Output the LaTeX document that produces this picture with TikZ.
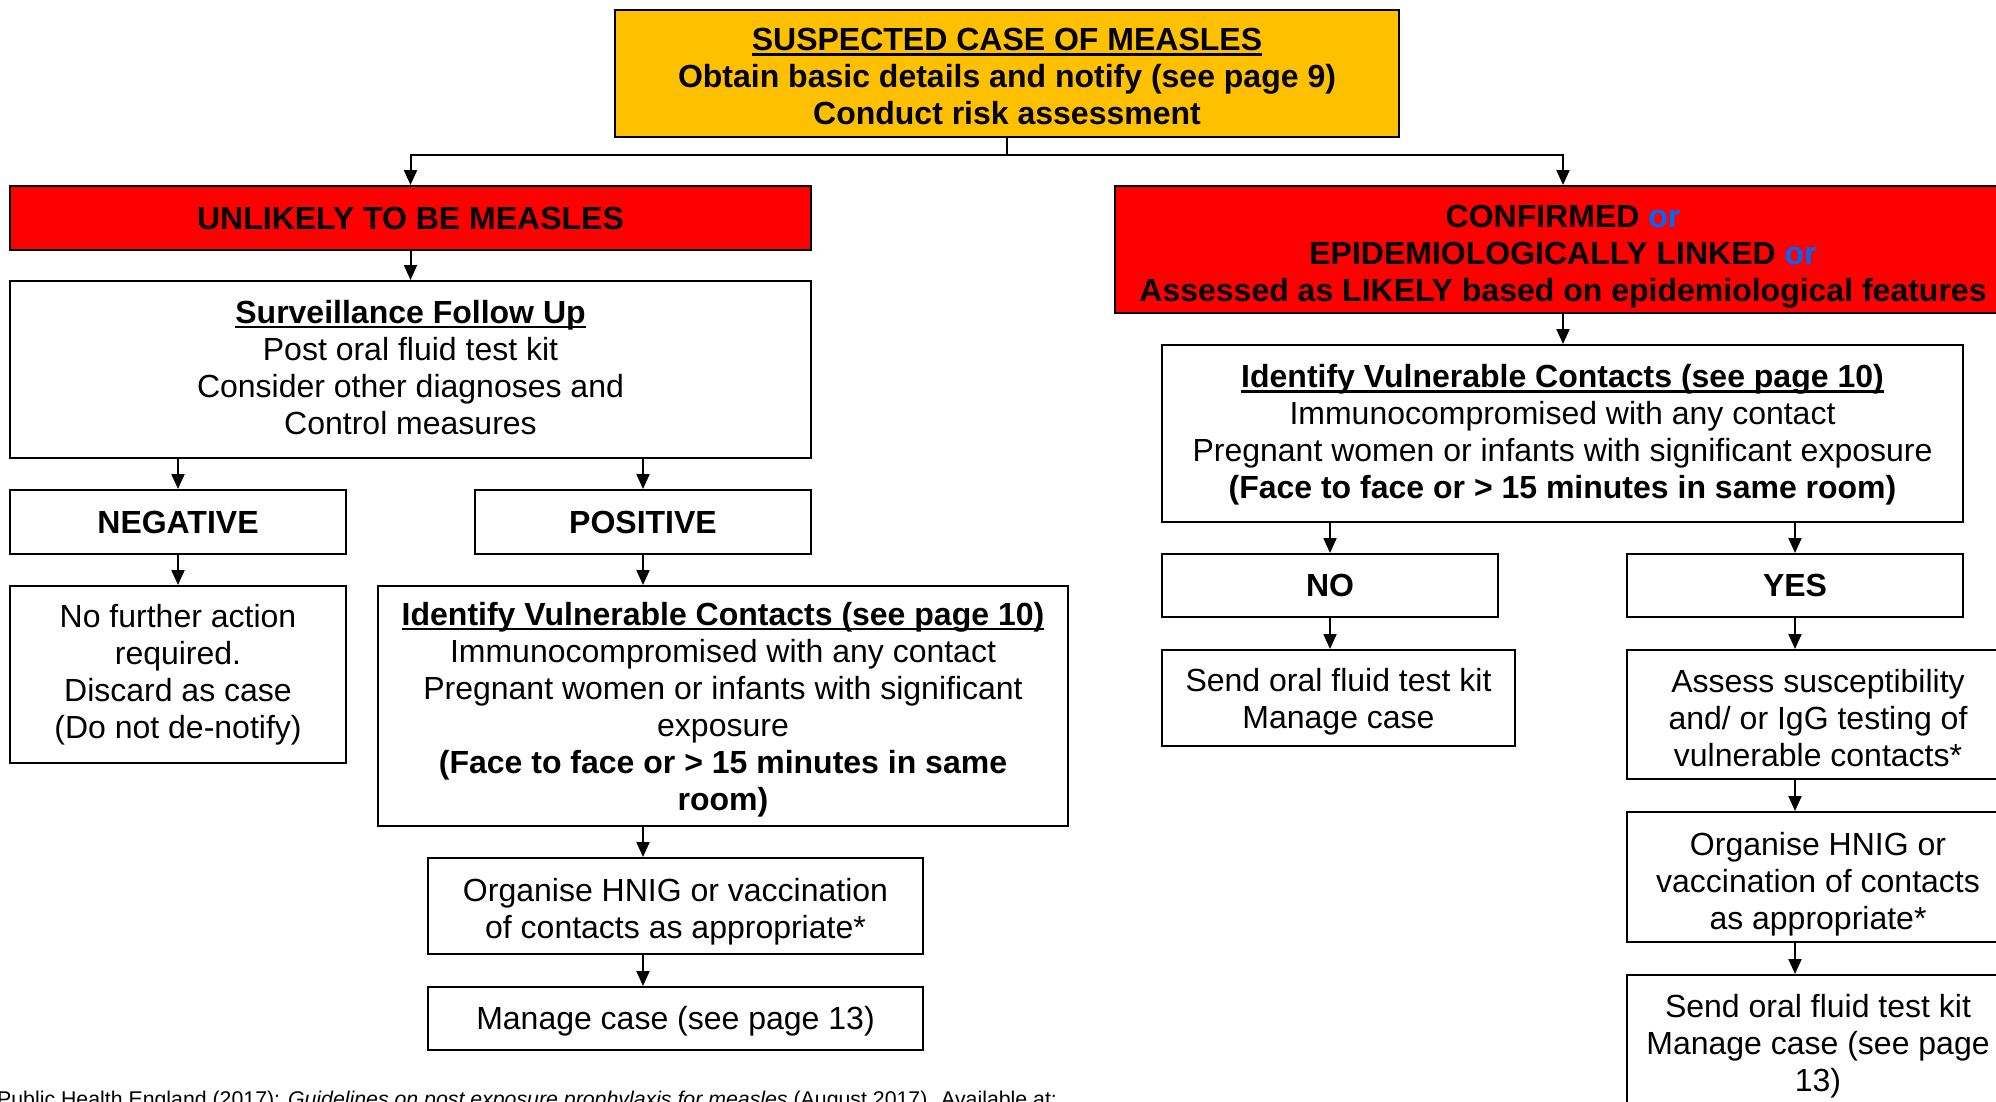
\documentclass[tikz,border=0pt]{standalone}
\usepackage{fontspec}
\setmainfont{Liberation Sans}
\usetikzlibrary{arrows.meta,calc}
\definecolor{ambr}{RGB}{255,192,0}
\definecolor{redb}{RGB}{255,0,0}
\definecolor{orblue}{RGB}{0,102,255}
\newsavebox{\myulbox}
\newcommand{\myul}[1]{\sbox{\myulbox}{#1}\rlap{\rule[-5pt]{\wd\myulbox}{2.6pt}}\usebox{\myulbox}}
\newcommand{\dn}[1]{\rule{0pt}{#1}}
\begin{document}
\begin{tikzpicture}[x=1pt,y=-1pt,
  box/.style={draw=black, line width=2pt, align=center, inner sep=0pt,
    font=\fontsize{32}{37}\selectfont},
  boldbox/.style={box, font=\fontsize{32}{37}\selectfont\bfseries},
  redbox/.style={box, fill=redb, font=\fontsize{32}{37}\selectfont\bfseries},
  arr/.style={line width=2pt, -{Triangle[width=13pt,length=15pt]}},
  link/.style={line width=2pt}]
\useasboundingbox (0,0) rectangle (1996,1101);
\clip (0,0) rectangle (1996,1101);

% top
\node[boldbox, fill=ambr, text depth=0pt,
  minimum width=784pt, minimum height=127pt] (top) at (1007,73.5)
  {\dn{28pt}\myul{SUSPECTED CASE OF MEASLES}\\Obtain basic details and notify (see page 9)\\Conduct risk assessment};

% left branch
\node[redbox, minimum width=801pt, minimum height=64pt] (unl) at (410.5,218)
  {UNLIKELY TO BE MEASLES};
\node[box, text depth=5pt, minimum width=801pt, minimum height=177pt] (surv) at (410.5,369.5)
  {\myul{\textbf{Surveillance Follow Up}}\\Post oral fluid test kit\\Consider other diagnoses and\\Control measures};
\node[boldbox, minimum width=336pt, minimum height=64pt] (neg) at (178,522) {NEGATIVE};
\node[boldbox, minimum width=336pt, minimum height=64pt] (pos) at (643,522) {POSITIVE};
\node[box, minimum width=336pt, minimum height=177pt] (nof) at (178,674.5)
  {No further action\\required.\\Discard as case\\(Do not de-notify)};
\node[box, text depth=0pt, minimum width=690pt, minimum height=240pt] (idl) at (723,706)
  {\myul{\textbf{Identify Vulnerable Contacts (see page 10)}}\\Immunocompromised with any contact\\Pregnant women or infants with significant\\exposure\\\textbf{(Face to face or > 15 minutes in same}\\\textbf{room)}};
\node[box, text depth=0pt, minimum width=495pt, minimum height=96pt] (orgl) at (675.5,906)
  {\dn{28pt}Organise HNIG or vaccination\\of contacts as appropriate*};
\node[box, text depth=2pt, minimum width=495pt, minimum height=63pt] (manl) at (675.5,1018.5)
  {Manage case (see page 13)};

% right branch
\node[redbox, text depth=0pt, minimum width=896pt, minimum height=127pt] (conf) at (1563,249.5)
  {\dn{30.6pt}CONFIRMED \textcolor{orblue}{or}\\EPIDEMIOLOGICALLY LINKED \textcolor{orblue}{or}\\Assessed as LIKELY based on epidemiological features};
\node[box, text depth=4pt, minimum width=801pt, minimum height=177pt] (idr) at (1562.5,433.5)
  {\myul{\textbf{Identify Vulnerable Contacts (see page 10)}}\\Immunocompromised with any contact\\Pregnant women or infants with significant exposure\\\textbf{(Face to face or > 15 minutes in same room)}};
\node[boldbox, minimum width=336pt, minimum height=63pt] (no) at (1330,585.5) {NO};
\node[boldbox, minimum width=336pt, minimum height=63pt] (yes) at (1795,585.5) {YES};
\node[box, text depth=0pt, minimum width=353pt, minimum height=96pt] (sendno) at (1338.5,698)
  {Send oral fluid test kit\\Manage case};
\node[box, text depth=0pt, minimum width=382pt, minimum height=129pt] (assess) at (1818,714.5)
  {\dn{30.6pt}Assess susceptibility\\and/ or IgG testing of\\vulnerable contacts*};
\node[box, text depth=0pt, minimum width=382pt, minimum height=130pt] (orgr) at (1818,877)
  {\dn{30.6pt}Organise HNIG or\\vaccination of contacts\\as appropriate*};
\node[box, text depth=2pt, minimum width=382pt, minimum height=138pt] (sendyes) at (1818,1044)
  {Send oral fluid test kit\\Manage case (see page\\13)};

% footnote
\node[anchor=base west, inner sep=0pt, font=\fontsize{21.3}{25}\selectfont] (foot) at (-3,1106)
  {Public Health England (2017): \textit{Guidelines on post exposure prophylaxis for measles} (August 2017). Available at:};

% connectors
\coordinate (hub) at ($(top.south)+(0,17)$);
\draw[link] (top.south) -- (hub);
\draw[link, line cap=rect] (hub -| unl.north) -- (hub -| conf.north);
\draw[arr] (hub -| unl.north) -- (unl.north);
\draw[arr] (hub -| conf.north) -- (conf.north);
\draw[arr] (unl.south) -- (surv.north);
\draw[arr] (surv.south -| neg.north) -- (neg.north);
\draw[arr] (surv.south -| pos.north) -- (pos.north);
\draw[arr] (neg.south) -- (nof.north);
\draw[arr] (pos.south) -- (pos.south |- idl.north);
\draw[arr] (idl.south -| pos.south) -- (orgl.north -| pos.south);
\draw[arr] (orgl.south -| pos.south) -- (manl.north -| pos.south);
\draw[arr] (conf.south) -- (conf.south |- idr.north);
\draw[arr] (idr.south -| no.north) -- (no.north);
\draw[arr] (idr.south -| yes.north) -- (yes.north);
\draw[arr] (no.south) -- (no.south |- sendno.north);
\draw[arr] (yes.south) -- (yes.south |- assess.north);
\draw[arr] (assess.south -| yes.south) -- (orgr.north -| yes.south);
\draw[arr] (orgr.south -| yes.south) -- (sendyes.north -| yes.south);
\end{tikzpicture}
\end{document}
